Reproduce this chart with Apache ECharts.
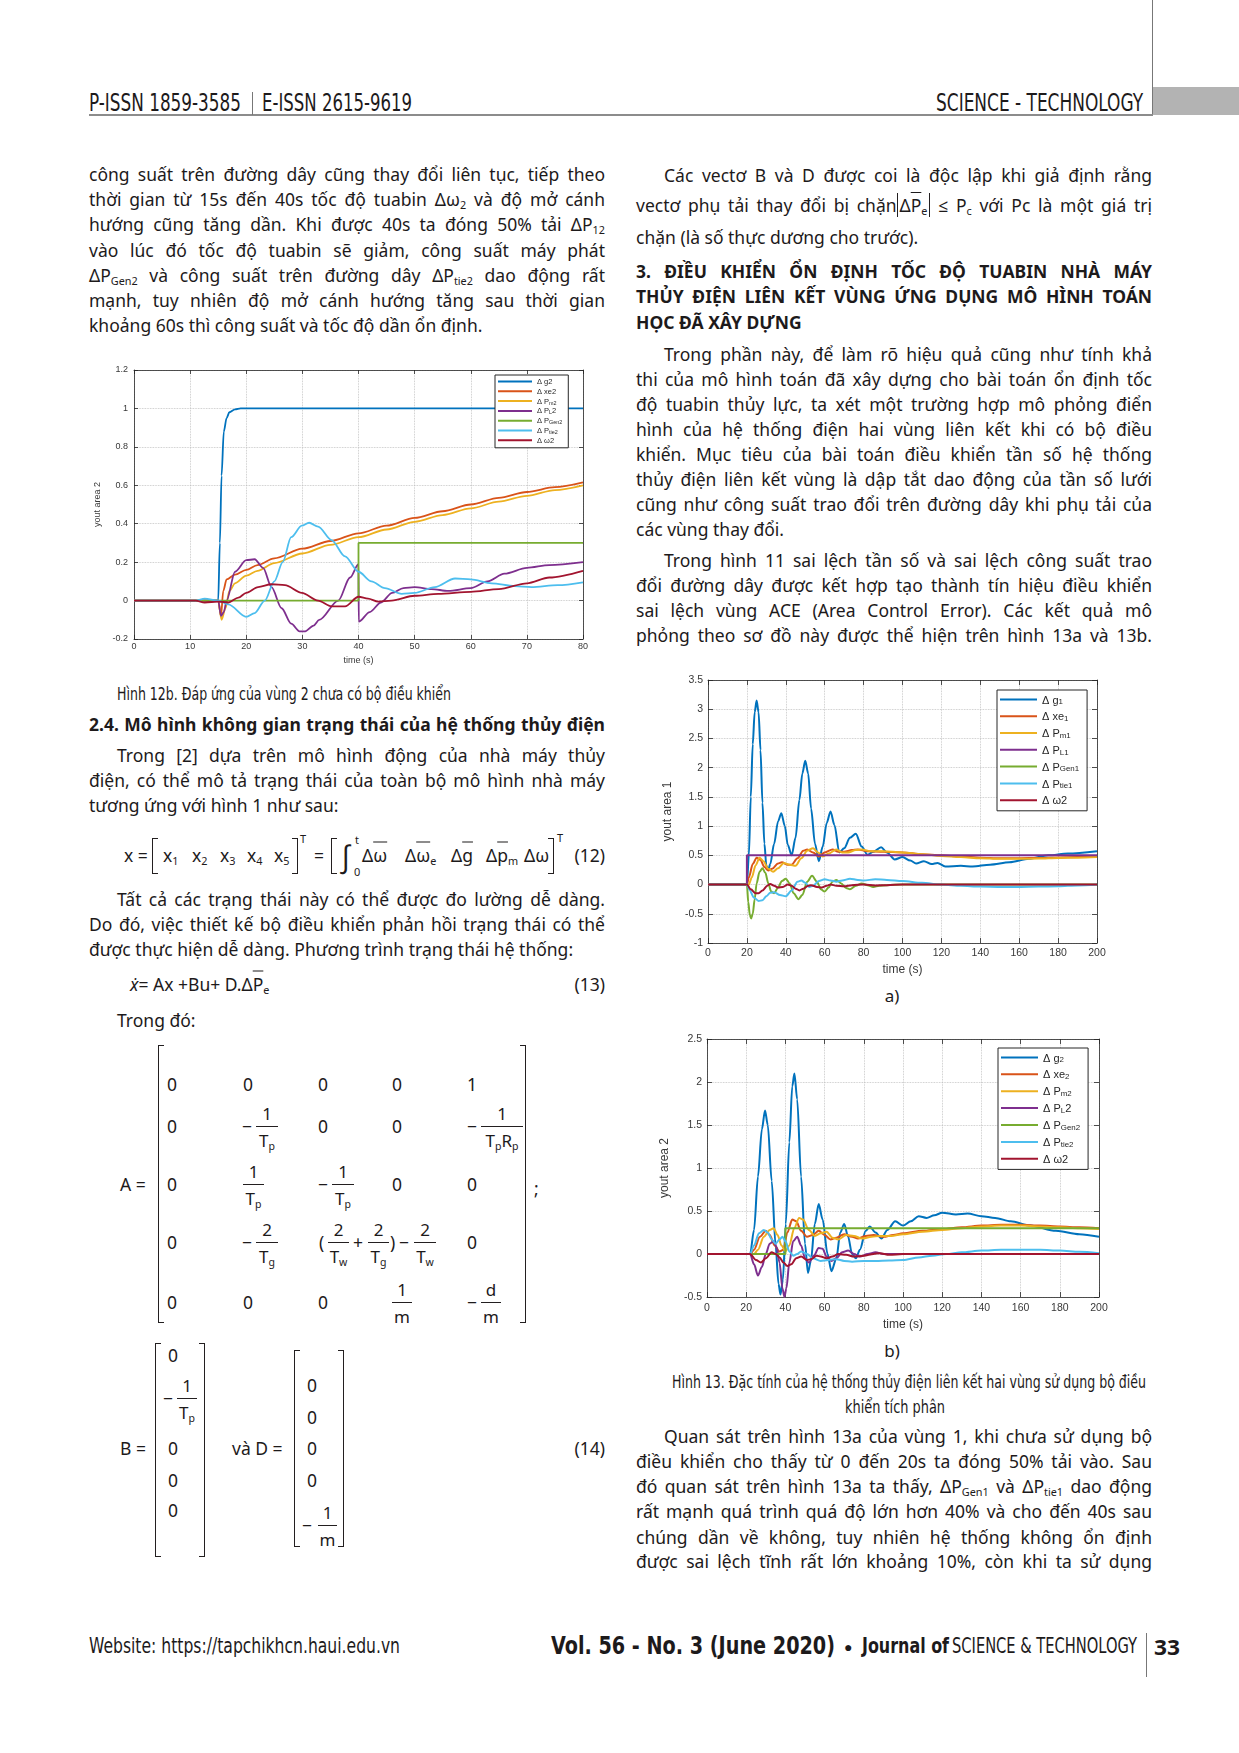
<!DOCTYPE html>
<html>
<head>
<meta charset="utf-8">
<script src="https://cdn.jsdelivr.net/npm/echarts@6/dist/echarts.min.js"></script>
<style>
  body { margin: 0; background: #fff; }
  #page { position: relative; width: 1239px; height: 1753px; overflow: hidden; background: #fff;
    font-family: "Noto Sans", "Open Sans", sans-serif; font-size: 17.5px; color: #1d1a1b; }
  .abs { position: absolute; white-space: nowrap; line-height: 1.2; }
  .ln { position: absolute; white-space: nowrap; height: 25px; line-height: 25px; }
  .b { font-weight: bold; }
  .cond { font-family: "Liberation Sans Narrow", "DejaVu Sans Condensed", sans-serif; }
  .ov { text-decoration: overline; }
  .bar { border-left: 1px solid #231f20; border-right: 1px solid #231f20; padding: 0 2px; }
  sub { font-size: 0.62em; vertical-align: -0.3em; line-height: 0; }
  sup { font-size: 0.62em; vertical-align: 0.7em; line-height: 0; }
  .rule { position: absolute; background: #231f20; }
  .chart { position: absolute; }
</style>
</head>
<body>
<div id="page">
  <div id="c12b" class="chart" style="left:89px;top:358px;width:510px;height:310px"></div>
  <div id="c13a" class="chart" style="left:655px;top:668px;width:460px;height:315px"></div>
  <div id="c13b" class="chart" style="left:655px;top:1025px;width:460px;height:310px"></div>
</div>
<script>
// ---- data ----
const COLORS = ['#0072BD', '#D95319', '#EDB120', '#7E2F8E', '#77AC30', '#4DBEEE', '#A2142F'];
const NAMES = ['g', 'xe', 'Pm', 'PL', 'Gen', 'tie', 'w'];

// Hình 12b
const xTicks12b = [0, 10, 20, 30, 40, 50, 60, 70, 80];
const yTicks12b = [-0.2, 0, 0.2, 0.4, 0.6, 0.8, 1, 1.2];
const legend12b = [['Δ g2'], ['Δ xe2'], ['Δ P', 'm2'], ['Δ P', 'L', '2'], ['Δ P', 'Gen2'], ['Δ P', 'tie2'], ['Δ ω2']];
const g_12b = [[0, 0], [14, 0], [15, 0], [15.3, 0.3], [15.6, 0.65], [16, 0.88], [16.5, 0.95], [17, 0.98], [18, 0.995], [19, 1], [25, 1], [80, 1]];
const xe_12b = [[0, 0], [14, 0], [15, 0], [15.5, -0.08], [15.9, 0.05], [16.5, 0.11], [18, 0.135], [20, 0.16], [22, 0.185], [25, 0.22], [30, 0.27], [35, 0.31], [40, 0.35], [45, 0.39], [50, 0.43], [55, 0.465], [60, 0.5], [65, 0.535], [70, 0.565], [75, 0.59], [80, 0.615]];
const Pm_12b = [[0, 0], [14, 0], [15, 0], [15.6, -0.1], [16.3, -0.04], [17, 0.05], [18, 0.09], [20, 0.13], [22, 0.155], [25, 0.195], [30, 0.245], [35, 0.29], [40, 0.33], [45, 0.37], [50, 0.41], [55, 0.445], [60, 0.48], [65, 0.515], [70, 0.545], [75, 0.575], [80, 0.6]];
const PL_12b = [[0, 0], [14, 0], [15, 0], [15.5, -0.08], [16, -0.06], [16.5, 0.0], [18, 0.15], [20, 0.21], [21.5, 0.215], [23, 0.17], [24.5, 0.07], [26.3, -0.04], [28, -0.12], [29.5, -0.16], [30.5, -0.16], [32, -0.13], [33, -0.1], [36.4, 0.0], [38.5, 0.12], [40, 0.19], [40.05, -0.11], [42, -0.06], [44, -0.01], [46, 0.04], [48, 0.065], [50, 0.07], [53, 0.06], [56, 0.05], [60, 0.065], [63, 0.1], [66, 0.14], [70, 0.17], [74, 0.185], [80, 0.2]];
const Gen_12b = [[0, 0], [40, 0], [40, 0.3], [80, 0.3]];
const tie_12b = [[0, 0], [11, 0], [12.6, 0.01], [15, 0], [16.8, -0.02], [20, -0.085], [21.5, -0.065], [23.3, 0], [25, 0.1], [26.5, 0.2], [28, 0.33], [29.9, 0.39], [31.2, 0.405], [32.8, 0.385], [35.2, 0.315], [37.6, 0.23], [40, 0.15], [42.3, 0.1], [44.7, 0.065], [47.7, 0.035], [50, 0.04], [53.6, 0.07], [57.2, 0.115], [60, 0.11], [63.7, 0.09], [67.8, 0.075], [70.8, 0.07], [75.5, 0.08], [80, 0.095]];
const w_12b = [[0, 0], [11, 0], [12.6, -0.01], [15, -0.005], [16.8, -0.01], [18.6, 0.015], [20, 0.04], [22.1, 0.07], [24.5, 0.085], [26.9, 0.08], [29.9, 0.04], [32.8, 0.0], [35.2, -0.03], [37.6, -0.03], [40, 0.02], [41.7, 0.01], [43.5, -0.005], [45.9, 0.0], [50, 0.025], [54.2, 0.035], [60, 0.045], [65, 0.06], [70, 0.09], [74, 0.12], [80, 0.155]];

// Hình 13a
const xTicks13 = [0, 20, 40, 60, 80, 100, 120, 140, 160, 180, 200];
const yTicks13a = [-1, -0.5, 0, 0.5, 1, 1.5, 2, 2.5, 3, 3.5];
const legend13a = [['Δ g', '1'], ['Δ xe', '1'], ['Δ P', 'm1'], ['Δ P', 'L1'], ['Δ P', 'Gen1'], ['Δ P', 'tie1'], ['Δ ω2']];
const g_13a = [[0, 0], [19, 0], [20, 0], [21, 0.5], [22, 1.5], [23, 2.4], [24, 2.95], [25, 3.15], [26, 2.95], [27, 2.3], [28, 1.4], [29, 0.7], [30, 0.32], [31, 0.25], [32, 0.35], [34, 0.7], [36, 1.08], [37.7, 1.22], [39.5, 1.0], [41, 0.68], [43, 0.5], [45, 0.8], [47, 1.45], [48.5, 1.9], [50, 2.12], [51.5, 1.9], [53, 1.3], [55, 0.7], [57, 0.4], [59, 0.65], [61, 1.05], [63, 1.25], [65, 1.02], [67.5, 0.55], [70, 0.62], [73, 0.8], [76, 0.87], [79, 0.65], [82, 0.51], [85, 0.56], [89, 0.64], [92, 0.55], [96, 0.43], [100, 0.47], [104, 0.41], [107, 0.36], [111, 0.4], [115, 0.35], [118, 0.37], [122, 0.31], [130, 0.32], [136, 0.31], [145, 0.34], [155, 0.38], [165, 0.44], [175, 0.5], [185, 0.53], [200, 0.57]];
const xe_13a = [[0, 0], [19, 0], [20, 0], [21, 0.12], [23, 0.35], [25, 0.46], [27, 0.42], [29, 0.3], [31, 0.24], [33, 0.27], [36, 0.36], [38, 0.38], [41, 0.34], [43, 0.34], [46, 0.45], [49, 0.58], [51, 0.6], [54, 0.55], [57, 0.48], [60, 0.55], [64, 0.6], [67, 0.56], [70, 0.56], [74, 0.59], [77, 0.6], [82, 0.57], [90, 0.56], [100, 0.55], [110, 0.52], [120, 0.5], [130, 0.48], [140, 0.46], [150, 0.45], [160, 0.45], [170, 0.455], [180, 0.465], [190, 0.47], [200, 0.48]];
const Pm_13a = [[0, 0], [20, 0], [21, 0], [22.5, 0.12], [24.5, 0.33], [26.5, 0.46], [28.5, 0.4], [31, 0.27], [33.5, 0.22], [36, 0.28], [39, 0.37], [42, 0.34], [45, 0.32], [48, 0.45], [51, 0.58], [54, 0.62], [56.5, 0.55], [59, 0.48], [62, 0.53], [66, 0.6], [69, 0.55], [72, 0.55], [76, 0.59], [79, 0.6], [84, 0.57], [90, 0.57], [100, 0.55], [110, 0.52], [120, 0.49], [130, 0.47], [140, 0.45], [150, 0.44], [160, 0.44], [170, 0.445], [180, 0.455], [190, 0.46], [200, 0.47]];
const PL_13a = [[0, 0], [20, 0], [20, 0.5], [200, 0.5]];
const Gen_13a = [[0, 0], [19, 0], [20, 0], [20.7, -0.3], [21.5, -0.52], [22.2, -0.58], [23, -0.5], [24, -0.25], [25, 0.02], [26.5, 0.22], [28, 0.28], [29.5, 0.2], [31, 0.02], [32.5, -0.12], [34, -0.15], [36, -0.05], [38, 0.06], [40, 0.1], [42, 0.02], [44, -0.15], [46.5, -0.25], [48.5, -0.18], [51, 0.05], [53.5, 0.15], [56, 0.05], [58, -0.08], [60, -0.12], [62, -0.05], [64, 0.05], [66, 0.08], [68.5, 0.02], [71, -0.06], [73, -0.08], [76, -0.02], [79, 0.02], [82, -0.01], [85, -0.04], [88, -0.02], [92, -0.01], [100, 0], [200, 0]];
const tie_13a = [[0, 0], [19, 0], [20, 0], [21.5, -0.1], [23.5, -0.22], [26, -0.28], [28, -0.27], [30, -0.2], [32, -0.14], [34, -0.13], [37, -0.18], [40, -0.2], [43, -0.1], [46, 0.05], [48, 0.07], [50, 0.03], [52, -0.04], [54, -0.02], [57, 0.06], [60, 0.09], [63, 0.07], [66, 0.05], [69, 0.07], [73, 0.1], [77, 0.08], [80, 0.07], [86, 0.09], [92, 0.08], [100, 0.06], [110, 0.03], [120, 0.0], [130, -0.02], [140, -0.035], [150, -0.04], [160, -0.04], [170, -0.035], [180, -0.03], [190, -0.015], [200, 0]];
const w_13a = [[0, 0], [19, 0], [20, 0], [22, -0.08], [24.5, -0.15], [26, -0.15], [28, -0.1], [30.5, -0.02], [32, 0.01], [34, -0.02], [36, -0.05], [38.5, -0.04], [41, 0.0], [43, -0.02], [45, -0.07], [47, -0.1], [49, -0.07], [51.5, -0.02], [53, -0.01], [56, -0.04], [58.5, -0.05], [61, -0.02], [63, 0.0], [66, -0.02], [70, -0.03], [74, -0.01], [80, 0.0], [86, -0.015], [92, -0.01], [100, 0], [200, 0]];

// Hình 13b
const yTicks13b = [-0.5, 0, 0.5, 1, 1.5, 2, 2.5];
const legend13b = [['Δ g', '2'], ['Δ xe', '2'], ['Δ P', 'm2'], ['Δ P', 'L', '2'], ['Δ P', 'Gen2'], ['Δ P', 'tie2'], ['Δ ω2']];
const g_13b = [[0, 0], [21, 0], [22, 0], [24, 0.28], [26, 0.9], [28, 1.45], [29.6, 1.67], [31, 1.5], [33, 0.85], [35, 0.1], [36.5, -0.35], [37.5, -0.47], [38.7, -0.3], [40.2, 0.35], [42, 1.3], [43.5, 1.95], [44.6, 2.1], [46, 1.8], [48, 0.9], [50, 0.12], [51.5, -0.22], [53, -0.08], [55, 0.35], [57, 0.58], [59, 0.4], [61.5, 0.0], [63.5, -0.2], [66, -0.05], [68, 0.25], [70, 0.35], [72, 0.2], [74, 0.0], [76, -0.05], [78, 0.05], [81, 0.27], [83, 0.32], [86, 0.25], [89, 0.18], [92, 0.28], [96, 0.38], [100, 0.33], [104, 0.38], [108, 0.44], [112, 0.42], [116, 0.45], [120, 0.48], [127, 0.46], [133, 0.47], [140, 0.44], [147, 0.42], [155, 0.38], [165, 0.33], [178, 0.27], [190, 0.23], [200, 0.2]];
const xe_13b = [[0, 0], [21, 0], [22, 0], [24, 0.05], [27, 0.2], [30, 0.27], [32, 0.22], [34.5, 0.1], [37, 0.03], [39, 0.05], [41, 0.25], [43.5, 0.4], [45.5, 0.38], [48, 0.27], [51, 0.2], [54, 0.22], [57, 0.27], [60, 0.22], [63, 0.17], [66, 0.19], [70, 0.23], [74, 0.2], [77, 0.18], [81, 0.21], [85, 0.22], [90, 0.2], [95, 0.22], [100, 0.24], [110, 0.27], [120, 0.29], [130, 0.31], [140, 0.33], [150, 0.34], [160, 0.34], [170, 0.33], [180, 0.32], [190, 0.31], [200, 0.3]];
const Pm_13b = [[0, 0], [23, 0], [24, 0], [26, 0.05], [29, 0.2], [32, 0.28], [34, 0.3], [36, 0.22], [38, 0.1], [40, 0.03], [42, 0.1], [44.5, 0.3], [47, 0.42], [49, 0.4], [52, 0.28], [55, 0.21], [58, 0.24], [61, 0.26], [64, 0.19], [67, 0.17], [71, 0.22], [75, 0.21], [79, 0.18], [84, 0.2], [88, 0.21], [94, 0.21], [100, 0.23], [110, 0.26], [120, 0.28], [130, 0.3], [140, 0.32], [150, 0.33], [160, 0.33], [170, 0.32], [180, 0.31], [190, 0.3], [200, 0.29]];
const PL_13b = [[0, 0], [21, 0], [22, 0], [24, -0.12], [26, -0.25], [28, -0.15], [30, 0.0], [32, 0.12], [34, 0.15], [35.5, 0.08], [37, -0.1], [38.5, -0.4], [39.5, -0.5], [40.5, -0.4], [42, -0.1], [44, 0.15], [46, 0.2], [48, 0.1], [50, -0.05], [52, -0.1], [54.5, -0.02], [57, 0.07], [59, 0.06], [61, -0.03], [63.5, -0.08], [66, -0.05], [69, 0.02], [72, 0.04], [75, 0.0], [78, -0.03], [82, 0.0], [86, 0.02], [90, 0.0], [95, 0.0], [200, 0]];
const Gen_13b = [[0, 0], [40, 0], [40, 0.3], [200, 0.3]];
const tie_13b = [[0, 0], [21, 0], [22, 0], [24, 0.1], [26.5, 0.24], [29, 0.28], [31, 0.25], [33, 0.17], [35, 0.12], [37, 0.17], [38.5, 0.2], [40, 0.15], [42, 0.03], [44, -0.02], [46, 0.0], [48, 0.03], [51, 0.0], [54, -0.05], [58, -0.08], [62, -0.07], [66, -0.06], [70, -0.08], [74, -0.09], [80, -0.08], [86, -0.08], [93, -0.075], [100, -0.07], [108, -0.04], [115, -0.02], [122, 0.0], [130, 0.02], [140, 0.04], [150, 0.05], [160, 0.05], [170, 0.05], [180, 0.04], [190, 0.025], [200, 0.01]];
const w_13b = [[0, 0], [21, 0], [22, 0], [25, -0.07], [27.5, -0.1], [30, -0.05], [33, 0.02], [35, 0.0], [37, -0.04], [39, -0.1], [41, -0.14], [43, -0.12], [45.5, -0.05], [48, -0.03], [51, -0.07], [53, -0.06], [56, -0.02], [58, -0.03], [61, -0.05], [64, -0.03], [67, 0.0], [71, -0.01], [75, -0.03], [80, -0.02], [85, 0.0], [88, 0.01], [93, -0.01], [100, 0], [200, 0]];

// ---- page text helpers ----
const page = document.getElementById('page');

function put(html, x, y, o = {}) {
  const d = document.createElement('div');
  d.className = 'abs ' + (o.cls || '');
  d.innerHTML = html;
  if (o.fs) d.style.fontSize = o.fs + 'px';
  d.style.left = x + 'px';
  d.style.top = y + 'px';
  page.appendChild(d);
  const al = o.al || 'l';
  const tx = al === 'c' ? '-50%' : al === 'r' ? '-100%' : '0';
  let k = 1;
  if (o.w) k = o.w / d.getBoundingClientRect().width;
  d.style.transformOrigin = (al === 'c' ? 'center' : al === 'r' ? 'right' : 'left') + ' center';
  d.style.transform = 'translate(' + tx + ',-50%) scaleX(' + k + ')';
  return d;
}

function rule(x, y, w, h, color) {
  const d = document.createElement('div');
  d.className = 'rule';
  d.style.cssText = 'left:' + x + 'px;top:' + y + 'px;width:' + w + 'px;height:' + h + 'px;' + (color ? 'background:' + color : '');
  page.appendChild(d);
}

function justify(s, w) {
  const w0 = s.getBoundingClientRect().width;
  const txt = s.textContent;
  const nSp = (txt.match(/ /g) || []).length;
  const diff = w - w0;
  if (diff >= 0 && nSp) s.style.wordSpacing = (diff / nSp) + 'px';
  else s.style.letterSpacing = (diff / txt.length) + 'px';
}

const L = { x: 89, w: 516 }, R = { x: 636, w: 516 };
function row(col, y, code, html) {
  const ind = /[IL]/.test(code) ? 28 : 0;
  const d = document.createElement('div');
  d.className = 'ln' + (code.includes('b') ? ' b' : '');
  d.style.left = (col.x + ind) + 'px';
  d.style.top = (y - 14) + 'px';
  d.innerHTML = '<span>' + html + '</span>';
  page.appendChild(d);
  if (/[jI]/.test(code)) justify(d.firstChild, col.w - ind);
}

function frac(num, den, x, y, w) {
  rule(x, y, w, 1);
  put(num, x + w / 2, y - 12, { al: 'c', fs: 17 });
  put(den, x + w / 2, y + 15, { al: 'c', fs: 17 });
}

function bracket(x, top, bottom, side) {
  const d = document.createElement('div');
  const edge = side === 'l' ? 'border-left' : 'border-right';
  d.style.cssText = 'position:absolute;left:' + x + 'px;top:' + top + 'px;width:6px;height:' + (bottom - top) + 'px;' +
    edge + ':1.3px solid #231f20;border-top:1.3px solid #231f20;border-bottom:1.3px solid #231f20;box-sizing:border-box';
  page.appendChild(d);
}

// ---- header / footer ----
rule(1152, 0, 1, 116, '#777');
rule(1153, 87, 86, 28, '#b3b3b3');
rule(89, 114, 1064, 2, '#8c8c8c');
rule(252, 92, 1, 23, '#777');
put('P-ISSN 1859-3585', 89, 103, { cls: 'cond', fs: 24, w: 152 });
put('E-ISSN 2615-9619', 262, 103, { cls: 'cond', fs: 24, w: 150 });
put('SCIENCE - TECHNOLOGY', 1143, 103, { cls: 'cond', fs: 24, w: 207, al: 'r' });

put('Website: https://tapchikhcn.haui.edu.vn', 89, 1646, { cls: 'cond', fs: 22, w: 311 });
put('Vol. 56 - No. 3 (June 2020)', 551, 1646, { cls: 'cond b', fs: 24, w: 284 });
put('●', 844, 1647, { fs: 14 });
put('Journal of', 862, 1646, { cls: 'cond b', fs: 22, w: 87 });
put('SCIENCE &amp; TECHNOLOGY', 952, 1646, { cls: 'cond', fs: 22, w: 185 });
rule(1146, 1633, 1, 44, '#777');
put('33', 1154, 1646, { cls: 'b', fs: 22, w: 26 });

// ---- body text ----
const rows = [
  [L, 176, 'j', 'công suất trên đường dây cũng thay đổi liên tục, tiếp theo'],
  [L, 201, 'j', 'thời gian từ 15s đến 40s tốc độ tuabin Δω<sub>2</sub> và độ mở cánh'],
  [L, 226, 'j', 'hướng cũng tăng dần. Khi được 40s ta đóng 50% tải ΔP<sub>12</sub>'],
  [L, 252, 'j', 'vào lúc đó tốc độ tuabin sẽ giảm, công suất máy phát'],
  [L, 277, 'j', 'ΔP<sub>Gen2</sub> và công suất trên đường dây ΔP<sub>tie2</sub> dao động rất'],
  [L, 302, 'j', 'mạnh, tuy nhiên độ mở cánh hướng tăng sau thời gian'],
  [L, 327, 'l', 'khoảng 60s thì công suất và tốc độ dần ổn định.'],
  [L, 726, 'jb', '2.4. Mô hình không gian trạng thái của hệ thống thủy điện'],
  [L, 757, 'I', 'Trong [2] dựa trên mô hình động của nhà máy thủy'],
  [L, 782, 'j', 'điện, có thể mô tả trạng thái của toàn bộ mô hình nhà máy'],
  [L, 807, 'l', 'tương ứng với hình 1 như sau:'],
  [L, 901, 'I', 'Tất cả các trạng thái này có thể được đo lường dễ dàng.'],
  [L, 926, 'j', 'Do đó, việc thiết kế bộ điều khiển phản hồi trạng thái có thể'],
  [L, 951, 'l', 'được thực hiện dễ dàng. Phương trình trạng thái hệ thống:'],
  [L, 1022, 'L', 'Trong đó:'],
  [R, 177, 'I', 'Các vectơ B và D được coi là độc lập khi giả định rằng'],
  [R, 207, 'j', 'vectơ phụ tải thay đổi bị chặn<span class="bar">Δ<span class="ov">P</span><sub>e</sub></span> ≤ P<sub>c</sub> với Pc là một giá trị'],
  [R, 239, 'l', 'chặn (là số thực dương cho trước).'],
  [R, 273, 'jb', '3. ĐIỀU KHIỂN ỔN ĐỊNH TỐC ĐỘ TUABIN NHÀ MÁY'],
  [R, 298, 'jb', 'THỦY ĐIỆN LIÊN KẾT VÙNG ỨNG DỤNG MÔ HÌNH TOÁN'],
  [R, 324, 'lb', 'HỌC ĐÃ XÂY DỰNG'],
  [R, 356, 'I', 'Trong phần này, để làm rõ hiệu quả cũng như tính khả'],
  [R, 381, 'j', 'thi của mô hình toán đã xây dựng cho bài toán ổn định tốc'],
  [R, 406, 'j', 'độ tuabin thủy lực, ta xét một trường hợp mô phỏng điển'],
  [R, 431, 'j', 'hình của hệ thống điện hai vùng liên kết khi có bộ điều'],
  [R, 456, 'j', 'khiển. Mục tiêu của bài toán điều khiển tần số hệ thống'],
  [R, 481, 'j', 'thủy điện liên kết vùng là dập tắt dao động của tần số lưới'],
  [R, 506, 'j', 'cũng như công suất trao đổi trên đường dây khi phụ tải của'],
  [R, 531, 'l', 'các vùng thay đổi.'],
  [R, 562, 'I', 'Trong hình 11 sai lệch tần số và sai lệch công suất trao'],
  [R, 587, 'j', 'đổi đường dây được kết hợp tạo thành tín hiệu điều khiển'],
  [R, 612, 'j', 'sai lệch vùng ACE (Area Control Error). Các kết quả mô'],
  [R, 637, 'j', 'phỏng theo sơ đồ này được thể hiện trên hình 13a và 13b.'],
  [R, 1438, 'I', 'Quan sát trên hình 13a của vùng 1, khi chưa sử dụng bộ'],
  [R, 1463, 'j', 'điều khiển cho thấy từ 0 đến 20s ta đóng 50% tải vào. Sau'],
  [R, 1488, 'j', 'đó quan sát trên hình 13a ta thấy, ΔP<sub>Gen1</sub> và ΔP<sub>tie1</sub> dao động'],
  [R, 1513, 'j', 'rất mạnh quá trình quá độ lớn hơn 40% và cho đến 40s sau'],
  [R, 1539, 'j', 'chúng dần về không, tuy nhiên hệ thống không ổn định'],
  [R, 1563, 'j', 'được sai lệch tĩnh rất lớn khoảng 10%, còn khi ta sử dụng']
];
rows.forEach(r => row(r[0], r[1], r[2], r[3]));

put('Hình 12b. Đáp ứng của vùng 2 chưa có bộ điều khiển', 117, 694, { cls: 'cond', fs: 17, w: 334 });
put('Hình 13. Đặc tính của hệ thống thủy điện liên kết hai vùng sử dụng bộ điều', 909, 1382, { cls: 'cond', fs: 17, w: 474, al: 'c' });
put('khiển tích phân', 895, 1407, { cls: 'cond', fs: 17, w: 100, al: 'c' });
put('a)', 892, 996, { al: 'c', fs: 17 });
put('b)', 892, 1351, { al: 'c', fs: 17 });

// ---- equation (12) ----
const sm = { fs: 11 };
put('x =', 124, 855);
bracket(152, 838, 874, 'l');
put('x<sub>1</sub>', 163, 855);
put('x<sub>2</sub>', 192, 855);
put('x<sub>3</sub>', 220, 855);
put('x<sub>4</sub>', 247, 855);
put('x<sub>5</sub>', 274, 855);
bracket(292, 838, 874, 'r');
put('T', 300, 839, sm);
put('=', 314, 855);
bracket(331, 838, 874, 'l');
put('∫', 340, 856, { fs: 30 });
put('t', 355, 840, sm);
put('0', 354, 872, sm);
put('Δ<span class="ov">ω</span>', 362, 855);
put('Δ<span class="ov">ω</span><sub>e</sub>', 405, 855);
put('Δ<span class="ov">g</span>', 451, 855);
put('Δ<span class="ov">p</span><sub>m</sub>', 486, 855);
put('Δω', 524, 855);
bracket(548, 838, 874, 'r');
put('T', 557, 838, sm);
put('(12)', 605, 855, { al: 'r' });

// ---- equation (13) ----
put('<i>ẋ</i>= Ax +Bu+ D.Δ<span class="ov">P</span><sub>e</sub>', 130, 984);
put('(13)', 605, 984, { al: 'r' });

// ---- matrix A ----
put('A =', 120, 1184);
bracket(158, 1045, 1323, 'l');
bracket(520, 1045, 1323, 'r');
put(';', 534, 1188);
[167, 243, 318, 392].forEach(x => put('0', x, 1084));
put('1', 467, 1084);
put('0', 167, 1126); put('−', 242, 1126); frac('1', 'T<sub>p</sub>', 256, 1126, 22);
put('0', 318, 1126); put('0', 392, 1126); put('−', 467, 1126); frac('1', 'T<sub>p</sub>R<sub>p</sub>', 481, 1126, 42);
put('0', 167, 1184); frac('1', 'T<sub>p</sub>', 243, 1184, 21); put('−', 318, 1184); frac('1', 'T<sub>p</sub>', 332, 1184, 22);
put('0', 392, 1184); put('0', 467, 1184);
put('0', 167, 1242); put('−', 242, 1242); frac('2', 'T<sub>g</sub>', 256, 1242, 22);
put('(', 319, 1242); frac('2', 'T<sub>w</sub>', 328, 1242, 21); put('+', 353, 1242); frac('2', 'T<sub>g</sub>', 368, 1242, 21);
put(')', 390, 1242); put('−', 399, 1242); frac('2', 'T<sub>w</sub>', 414, 1242, 22); put('0', 467, 1242);
put('0', 167, 1302); put('0', 243, 1302); put('0', 318, 1302); frac('1', 'm', 392, 1302, 20);
put('−', 467, 1302); frac('d', 'm', 481, 1302, 20);

// ---- vectors B and D ----
put('B =', 120, 1448);
bracket(155, 1343, 1557, 'l');
bracket(199, 1343, 1557, 'r');
put('0', 168, 1355);
put('−', 163, 1398); frac('1', 'T<sub>p</sub>', 177, 1398, 20);
put('0', 168, 1448); put('0', 168, 1480); put('0', 168, 1510);
put('và D =', 232, 1448);
bracket(294, 1350, 1547, 'l');
bracket(338, 1350, 1547, 'r');
[1385, 1417, 1448, 1480].forEach(y => put('0', 307, y));
put('−', 302, 1525); frac('1', 'm', 318, 1525, 19);
put('(14)', 605, 1448, { al: 'r' });

// ---- charts ----
const FONT = '"Liberation Sans", Arial, sans-serif';
function span(ticks) {
  return { min: ticks[0], max: ticks[ticks.length - 1], interval: ticks[1] - ticks[0] };
}

function buildChart(id, c) {
  const chart = echarts.init(document.getElementById(id));
  const line = { show: true, onZero: false, lineStyle: { color: '#262626', width: 0.8 } };
  const tick = { show: true, inside: true, length: c.tick, lineStyle: { color: '#262626', width: 0.8 } };
  const lab = { fontSize: c.fs, color: '#383838', fontFamily: FONT };
  const gridLine = { show: true, lineStyle: { type: 'dotted', color: '#bdbdbd', width: 0.8 } };
  const nameStyle = { fontSize: c.nfs, color: '#383838', fontFamily: FONT };
  const xr = span(c.xTicks), yr = span(c.yTicks);
  const lg = c.legend;
  chart.setOption({
    animation: false,
    textStyle: { fontFamily: FONT },
    grid: Object.assign({ containLabel: false, outerBoundsMode: 'none' }, c.grid),
    xAxis: [
      Object.assign({ type: 'value', position: 'bottom', axisLine: line, axisTick: tick,
        axisLabel: Object.assign({ margin: c.xm }, lab), splitLine: gridLine,
        name: 'time (s)', nameLocation: 'middle', nameGap: c.xg, nameTextStyle: nameStyle }, xr),
      Object.assign({ type: 'value', position: 'top', axisLine: line, axisTick: tick,
        axisLabel: { show: false }, splitLine: { show: false } }, xr)
    ],
    yAxis: [
      Object.assign({ type: 'value', position: 'left', axisLine: line, axisTick: tick,
        axisLabel: Object.assign({ margin: c.ym }, lab), splitLine: gridLine,
        name: c.yName, nameLocation: 'middle', nameGap: c.yg, nameTextStyle: nameStyle }, yr),
      Object.assign({ type: 'value', position: 'right', axisLine: line, axisTick: tick,
        axisLabel: { show: false }, splitLine: { show: false } }, yr)
    ],
    legend: {
      orient: 'vertical', left: lg.left, top: lg.top, padding: lg.pad, itemGap: lg.gap,
      itemWidth: lg.iw, itemHeight: 2, icon: 'rect', selectedMode: false,
      borderColor: '#262626', borderWidth: 1, backgroundColor: '#fff',
      data: NAMES,
      textStyle: {
        color: '#262626', fontSize: lg.fs, fontFamily: FONT,
        rich: {
          a: { fontSize: lg.fs, lineHeight: lg.fs * 1.2, verticalAlign: 'bottom', color: '#262626' },
          b: { fontSize: lg.fs * 0.72, lineHeight: lg.fs * 0.55, verticalAlign: 'bottom', color: '#262626' }
        }
      },
      formatter: name => {
        const p = c.labels[NAMES.indexOf(name)];
        return '{a|' + p[0] + '}' + (p[1] ? '{b|' + p[1] + '}' : '') + (p[2] ? '{a|' + p[2] + '}' : '');
      }
    },
    series: c.series.map((d, i) => ({
      type: 'line', name: NAMES[i], data: d, showSymbol: false,
      smooth: c.steps.includes(i) ? false : 0.3, smoothMonotone: 'x',
      lineStyle: { width: c.lw, color: COLORS[i] }, itemStyle: { color: COLORS[i] },
      xAxisIndex: 0, yAxisIndex: 0, z: 2 + i
    }))
  });
}

buildChart('c12b', {
  grid: { left: 45, top: 12, width: 449, height: 269 },
  xTicks: xTicks12b, yTicks: yTicks12b, fs: 9, nfs: 9, tick: 4, xm: 3, ym: 6, xg: 15, yg: 31,
  yName: 'yout area 2', lw: 1.8, labels: legend12b, steps: [4],
  legend: { left: 406, top: 17, pad: [3, 6, 3, 3], gap: 1.8, iw: 34, fs: 7.5 },
  series: [g_12b, xe_12b, Pm_12b, PL_12b, Gen_12b, tie_12b, w_12b]
});
buildChart('c13a', {
  grid: { left: 53, top: 12, width: 389, height: 263 },
  xTicks: xTicks13, yTicks: yTicks13a, fs: 10.5, nfs: 12, tick: 5, xm: 5, ym: 5, xg: 21, yg: 34,
  yName: 'yout area 1', lw: 2, labels: legend13a, steps: [3],
  legend: { left: 342, top: 22, pad: [5, 8, 4, 3], gap: 5.8, iw: 37, fs: 11 },
  series: [g_13a, xe_13a, Pm_13a, PL_13a, Gen_13a, tie_13a, w_13a]
});
buildChart('c13b', {
  grid: { left: 52, top: 14, width: 392, height: 258 },
  xTicks: xTicks13, yTicks: yTicks13b, fs: 10.5, nfs: 12, tick: 5, xm: 6, ym: 5, xg: 21, yg: 36,
  yName: 'yout area 2', lw: 2, labels: legend13b, steps: [4],
  legend: { left: 343, top: 23, pad: [5, 8, 4, 3], gap: 5.9, iw: 37, fs: 11 },
  series: [g_13b, xe_13b, Pm_13b, PL_13b, Gen_13b, tie_13b, w_13b]
});
</script>
</body>
</html>
